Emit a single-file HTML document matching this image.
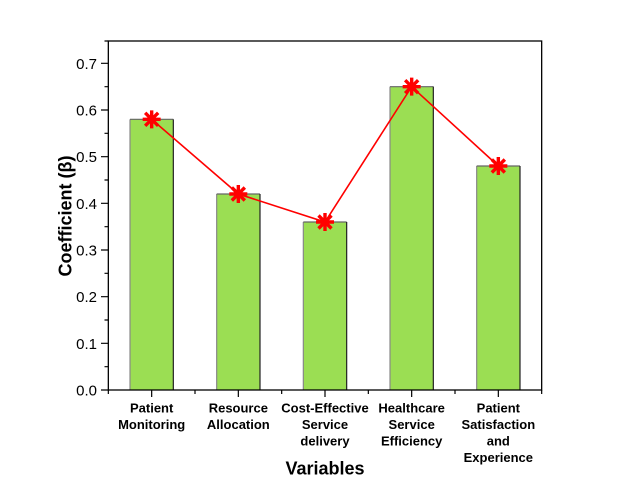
<!DOCTYPE html>
<html><head><meta charset="utf-8"><style>
html,body{margin:0;padding:0;background:#fff;}
svg{display:block;}
text{font-family:"Liberation Sans",Arial,sans-serif;fill:#000;}
</style></head><body>
<svg width="635" height="486" viewBox="0 0 635 486" xmlns="http://www.w3.org/2000/svg">
<rect width="635" height="486" fill="#fff"/>
<!-- bars -->
<g fill="#9BDE53">
<rect x="130" y="119.33" width="43.33" height="270.67"/>
<rect x="216.67" y="194" width="43.33" height="196"/>
<rect x="303.33" y="222" width="43.33" height="168"/>
<rect x="390" y="86.67" width="43.33" height="303.33"/>
<rect x="476.67" y="166" width="43.33" height="224"/>
</g>
<g stroke-width="1.2" fill="none">
<path d="M130 390V119.33M216.67 390V194M303.33 390V222M390 390V86.67M476.67 390V166" stroke="#888"/>
<path d="M130 119.33H173.33M216.67 194H260M303.33 222H346.67M390 86.67H433.33M476.67 166H520" stroke="#666"/>
<path d="M173.33 119.33V390M260 194V390M346.67 222V390M433.33 86.67V390M520 166V390" stroke="#222"/>
</g>
<!-- frame -->
<rect x="108.33" y="41" width="433.34" height="349" fill="none" stroke="#000" stroke-width="1.3"/>
<!-- ticks -->
<g stroke="#000" stroke-width="1.2">
<path d="M101 390H108.33M101 343.33H108.33M101 296.67H108.33M101 250H108.33M101 203.33H108.33M101 156.67H108.33M101 110H108.33M101 63.33H108.33"/>
<path d="M104.5 366.67H108.33M104.5 320H108.33M104.5 273.33H108.33M104.5 226.67H108.33M104.5 180H108.33M104.5 133.33H108.33M104.5 86.67H108.33M104.5 41H108.33"/>
<path d="M151.67 390V397M238.33 390V397M325 390V397M411.67 390V397M498.33 390V397"/>
<path d="M108.33 390V394M195 390V394M281.67 390V394M368.33 390V394M455 390V394M541.67 390V394"/>
</g>
<!-- y tick labels -->
<g font-size="15" text-anchor="end" style="fill:#111">
<text x="97" y="395.5">0.0</text>
<text x="97" y="348.8">0.1</text>
<text x="97" y="302.2">0.2</text>
<text x="97" y="255.5">0.3</text>
<text x="97" y="208.8">0.4</text>
<text x="97" y="162.2">0.5</text>
<text x="97" y="115.5">0.6</text>
<text x="97" y="68.8">0.7</text>
</g>
<!-- category labels -->
<g font-size="13" font-weight="bold" text-anchor="middle">
<text x="151.67" y="412.5">Patient</text>
<text x="151.67" y="429">Monitoring</text>
<text x="238.33" y="412.5">Resource</text>
<text x="238.33" y="429">Allocation</text>
<text x="325" y="412.5">Cost-Effective</text>
<text x="325" y="429">Service</text>
<text x="325" y="445.5">delivery</text>
<text x="411.67" y="412.5">Healthcare</text>
<text x="411.67" y="429">Service</text>
<text x="411.67" y="445.5">Efficiency</text>
<text x="498.33" y="412.5">Patient</text>
<text x="498.33" y="429">Satisfaction</text>
<text x="498.33" y="445.5">and</text>
<text x="498.33" y="462">Experience</text>
</g>
<text x="325" y="474.5" font-size="18" font-weight="bold" text-anchor="middle">Variables</text>
<text transform="translate(71.5,216) rotate(-90)" font-size="18" font-weight="bold" text-anchor="middle">Coefficient (β)</text>
<!-- line -->
<polyline points="151.67,119.33 238.33,194 325,222 411.67,86.67 498.33,166" fill="none" stroke="#f00" stroke-width="1.6"/>
<!-- markers -->
<g stroke="#f00" stroke-width="3.4" stroke-linecap="butt">
<g transform="translate(151.67,119.33)"><path d="M0 -9V9M-9 0H9M-6.5 -6.5L6.5 6.5M-6.5 6.5L6.5 -6.5"/></g>
<g transform="translate(238.33,194)"><path d="M0 -9V9M-9 0H9M-6.5 -6.5L6.5 6.5M-6.5 6.5L6.5 -6.5"/></g>
<g transform="translate(325,222)"><path d="M0 -9V9M-9 0H9M-6.5 -6.5L6.5 6.5M-6.5 6.5L6.5 -6.5"/></g>
<g transform="translate(411.67,86.67)"><path d="M0 -9V9M-9 0H9M-6.5 -6.5L6.5 6.5M-6.5 6.5L6.5 -6.5"/></g>
<g transform="translate(498.33,166)"><path d="M0 -9V9M-9 0H9M-6.5 -6.5L6.5 6.5M-6.5 6.5L6.5 -6.5"/></g>
</g>
</svg>
</body></html>
